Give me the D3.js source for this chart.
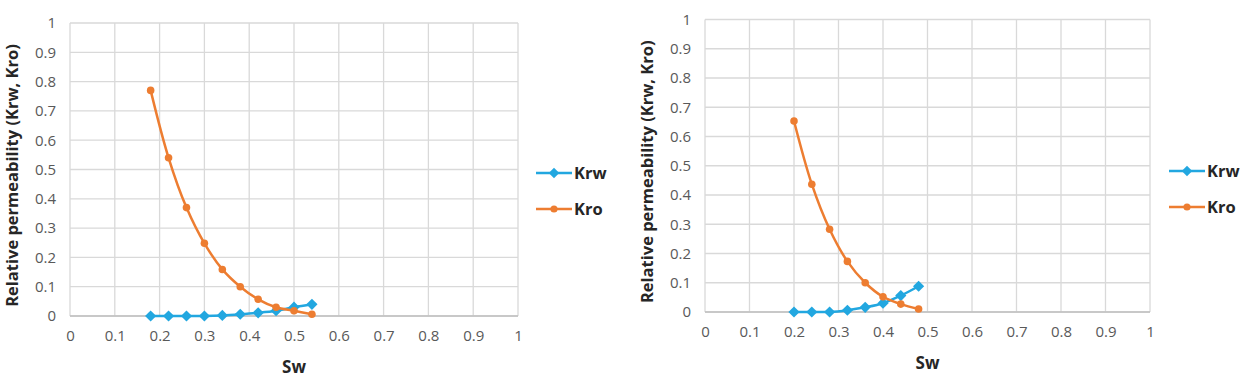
<!DOCTYPE html>
<html><head><meta charset="utf-8">
<script src="https://cdn.jsdelivr.net/npm/d3@7"></script>
<style>body{margin:0;background:#fff;} svg{display:block;}</style>
</head><body>
<svg id="c" width="1259" height="390"></svg>
<script>
// Left chart data
const swLeft = [0.18,0.22,0.26,0.30,0.34,0.38,0.42,0.46,0.50,0.54];
const krwLeft = [0,0,0,0,0.002,0.006,0.011,0.018,0.030,0.040];
const kroLeft = [0.77,0.54,0.37,0.248,0.159,0.10,0.057,0.03,0.018,0.006];
// Right chart data
const swRight = [0.20,0.24,0.28,0.32,0.36,0.40,0.44,0.48];
const krwRight = [0,0,0,0.006,0.016,0.030,0.056,0.088];
const kroRight = [0.653,0.437,0.283,0.173,0.10,0.052,0.027,0.01];
const tickValues = [0,0.1,0.2,0.3,0.4,0.5,0.6,0.7,0.8,0.9,1];
const seriesNames = ["Krw","Kro"];
const xTitle = "Sw";
const yTitle = "Relative permeability (Krw, Kro)";

const colors = {Krw:"#22A7E0", Kro:"#ED7D31"};
const FONT = "'Open Sans', 'Liberation Sans', Arial, sans-serif";
const svg = d3.select("#c");

function drawChart(cfg){
  const x = d3.scaleLinear().domain([0,1]).range([cfg.x0,cfg.x1]);
  const y = d3.scaleLinear().domain([0,1]).range([cfg.y0,cfg.y1]);
  const g = svg.append("g");
  g.selectAll(".vg").data(tickValues).join("line")
    .attr("x1",d=>x(d)).attr("x2",d=>x(d)).attr("y1",y(0)).attr("y2",y(1))
    .attr("stroke","#D9D9D9").attr("stroke-width",1.3);
  g.selectAll(".hg").data(tickValues).join("line")
    .attr("x1",x(0)).attr("x2",x(1)).attr("y1",d=>y(d)).attr("y2",d=>y(d))
    .attr("stroke","#D9D9D9").attr("stroke-width",1.3);
  g.append("line").attr("x1",x(0)).attr("x2",x(1)).attr("y1",y(0)).attr("y2",y(0))
    .attr("stroke","#BFBFBF").attr("stroke-width",1.5);
  const xa = g.append("g").attr("transform",`translate(0,${y(0)})`)
    .call(d3.axisBottom(x).tickValues(tickValues).tickFormat(d3.format("~g")).tickSize(0).tickPadding(14));
  const ya = g.append("g").attr("transform",`translate(${x(0)},0)`)
    .call(d3.axisLeft(y).tickValues(tickValues).tickFormat(d3.format("~g")).tickSize(0).tickPadding(14));
  [xa,ya].forEach(a=>{a.select(".domain").remove();
    a.selectAll("text").attr("fill","#595959").attr("font-family",FONT).attr("font-size",15);});
  g.append("text").attr("x",(x(0)+x(1))/2).attr("y",cfg.y0+57).attr("text-anchor","middle")
    .attr("font-family",FONT).attr("font-weight","bold").attr("font-size",17)
    .attr("fill","#262626").text(xTitle);
  g.append("text").attr("transform",`translate(${cfg.x0-52},${(y(0)+y(1))/2+6}) rotate(-90)`)
    .attr("text-anchor","middle")
    .attr("font-family",FONT).attr("font-weight","bold").attr("font-size",16.5)
    .attr("fill","#262626").text(yTitle);
  const line = d3.line().x(d=>x(d[0])).y(d=>y(d[1])).curve(d3.curveCatmullRom.alpha(0.5));
  cfg.series.forEach(s=>{
    const pts = cfg.sw.map((v,i)=>[v,s.values[i]]);
    g.append("path").datum(pts).attr("d",line).attr("fill","none")
      .attr("stroke",colors[s.name]).attr("stroke-width",2.5);
    const sym = s.name==="Krw" ? d3.symbol(d3.symbolDiamond2, 80) : d3.symbol(d3.symbolCircle, 45);
    g.selectAll(null).data(pts).join("path").attr("d",sym)
      .attr("transform",d=>`translate(${x(d[0])},${y(d[1])})`).attr("fill",colors[s.name]);
  });
  seriesNames.forEach((n,i)=>{
    const ly = cfg.legY + i*36;
    g.append("line").attr("x1",cfg.legX).attr("x2",cfg.legX+36).attr("y1",ly).attr("y2",ly)
      .attr("stroke",colors[n]).attr("stroke-width",2.5);
    const sym = n==="Krw" ? d3.symbol(d3.symbolDiamond2, 70) : d3.symbol(d3.symbolCircle, 40);
    g.append("path").attr("d",sym).attr("transform",`translate(${cfg.legX+18},${ly})`).attr("fill",colors[n]);
    g.append("text").attr("x",cfg.legX+38).attr("y",ly+6)
      .attr("font-family",FONT).attr("font-weight","bold").attr("font-size",16.5)
      .attr("fill","#262626").text(n);
  });
}

drawChart({x0:70,x1:518,y0:316,y1:23,sw:swLeft,
  series:[{name:"Krw",values:krwLeft},{name:"Kro",values:kroLeft}],legX:536,legY:173});
drawChart({x0:705,x1:1150,y0:312,y1:19.5,sw:swRight,
  series:[{name:"Krw",values:krwRight},{name:"Kro",values:kroRight}],legX:1169,legY:171});
</script>
</body></html>
